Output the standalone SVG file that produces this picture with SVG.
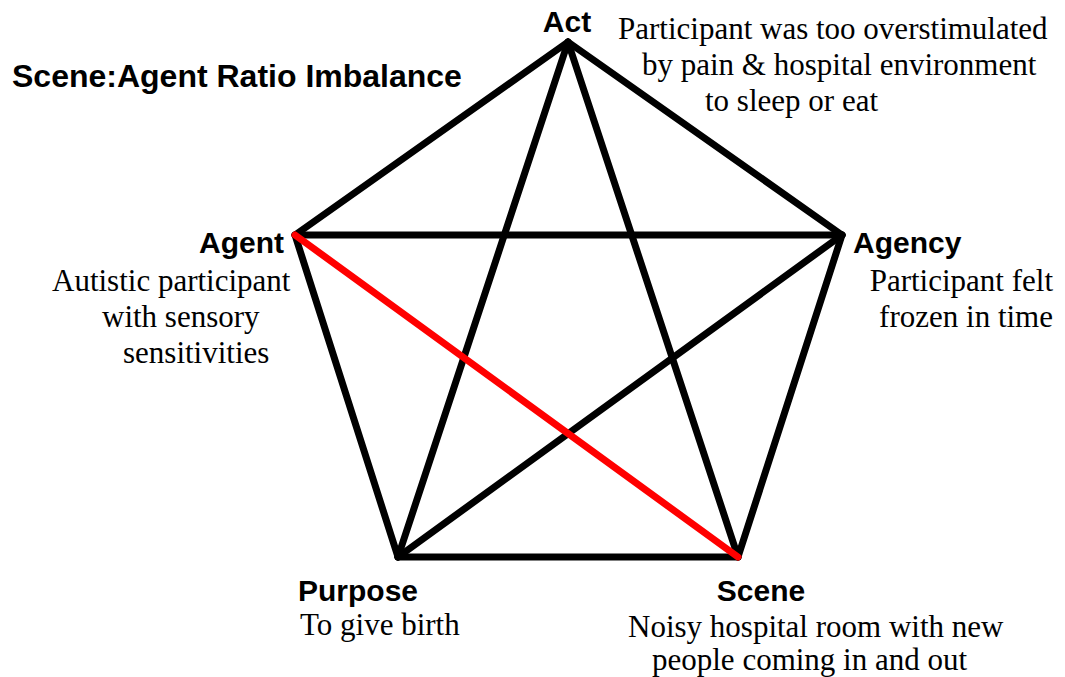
<svg xmlns="http://www.w3.org/2000/svg" width="1065" height="677" viewBox="0 0 1065 677">
<style>
.lbl{font-family:"Liberation Sans",Arial,sans-serif;font-weight:bold;font-size:30px;fill:#000}
.ttl{font-family:"Liberation Sans",Arial,sans-serif;font-weight:bold;font-size:32px;fill:#000}
.desc{font-family:"Liberation Serif","Times New Roman",serif;font-size:31px;fill:#000}
.edge{stroke:#000;stroke-width:7;fill:none;stroke-linecap:round}
.hl{stroke:#FF0000;stroke-width:7;fill:none;stroke-linecap:round}
</style>
<rect width="1065" height="677" fill="#fff"/>
<g id="connectors">
<line class="edge" x1="568" y1="42" x2="295" y2="235"/>
<line class="edge" x1="568" y1="42" x2="842" y2="235"/>
<line class="edge" x1="568" y1="42" x2="398" y2="557"/>
<line class="edge" x1="568" y1="42" x2="738" y2="557"/>
<line class="edge" x1="295" y1="235" x2="842" y2="235"/>
<line class="edge" x1="295" y1="235" x2="398" y2="557"/>
<line class="edge" x1="842" y1="235" x2="738" y2="557"/>
<line class="edge" x1="842" y1="235" x2="398" y2="557"/>
<line class="edge" x1="398" y1="557" x2="738" y2="557"/>
<line class="hl" x1="295" y1="235" x2="738" y2="557"/>
</g>
<g id="title">
<text class="ttl" x="12" y="87">Scene:Agent Ratio Imbalance</text>
</g>
<g id="act">
<text class="lbl" x="567" y="32" text-anchor="middle">Act</text>
<text class="desc" x="618" y="39">Participant was too overstimulated</text>
<text class="desc" x="642" y="75">by pain &amp; hospital environment</text>
<text class="desc" x="705" y="111">to sleep or eat</text>
</g>
<g id="agent">
<text class="lbl" x="284" y="253" text-anchor="end">Agent</text>
<text class="desc" x="52" y="291">Autistic participant</text>
<text class="desc" x="102" y="327">with sensory</text>
<text class="desc" x="123" y="363">sensitivities</text>
</g>
<g id="agency">
<text class="lbl" x="853" y="253">Agency</text>
<text class="desc" x="1053" y="291" text-anchor="end">Participant felt</text>
<text class="desc" x="1053" y="327" text-anchor="end">frozen in time</text>
</g>
<g id="purpose">
<text class="lbl" x="298" y="601">Purpose</text>
<text class="desc" x="300" y="635">To give birth</text>
</g>
<g id="scene">
<text class="lbl" x="761" y="601" text-anchor="middle">Scene</text>
<text class="desc" x="628" y="637">Noisy hospital room with new</text>
<text class="desc" x="652" y="670">people coming in and out</text>
</g>
</svg>
